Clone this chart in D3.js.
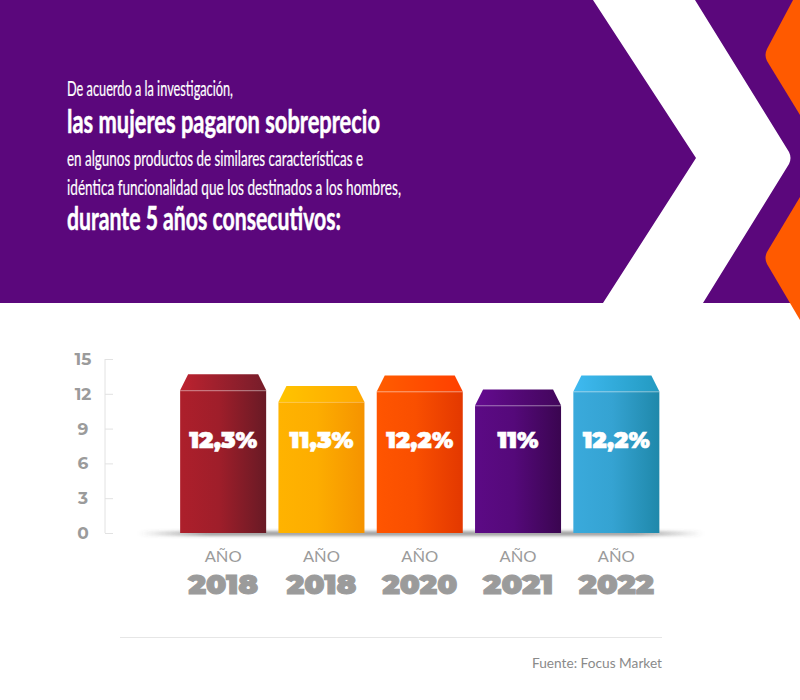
<!DOCTYPE html>
<html><head><meta charset="utf-8">
<script src="https://cdn.jsdelivr.net/npm/d3@7"></script>
<style>html,body{margin:0;padding:0;background:#fff;}svg{display:block;}</style>
</head><body>
<script>
const headerLines = ["De acuerdo a la investigación,", "las mujeres pagaron sobreprecio", "en algunos productos de similares características e", "idéntica funcionalidad que los destinados a los hombres,", "durante 5 años consecutivos:"];
const headerBold = [false, true, false, false, true];
const categories = ["2018", "2018 ", "2020", "2021", "2022"];
const yearLabels = ["2018", "2018", "2020", "2021", "2022"];
const values = [12.3, 11.3, 12.2, 11, 12.2];
const valueLabels = ["12,3%", "11,3%", "12,2%", "11%", "12,2%"];
const yTicks = [0, 3, 6, 9, 12, 15];
const source = "Fuente: Focus Market";

const colorsL = ["#ad1f2b", "#ffb300", "#ff5500", "#5c0a85", "#3aaadc"];
const colorsR = ["#681a25", "#f59300", "#e33800", "#3a0550", "#1f88aa"];

const W = 800, H = 700;
const svg = d3.select("body").append("svg").attr("width", W).attr("height", H);
const defs = svg.append("defs");

// header background
svg.append("rect").attr("x",0).attr("y",0).attr("width",W).attr("height",303).attr("fill","#5b077c");
svg.append("path").attr("fill","#ffffff")
  .attr("d","M593,0 L695,0 L789,152 Q792,158 789,164 L703,303 L603,303 L696,158 Z");
svg.append("path").attr("fill","#ff5a00")
  .attr("d","M793,0 L800,0 L800,115 L767,61 Q764,55 767,49 Z");
svg.append("path").attr("fill","#ff5a00")
  .attr("d","M800,197 L767,252 Q764,258 767,264 L800,320 Z");

const hSizes = [20.5, 32, 20.5, 20.5, 32];
const hBase = [96, 133, 166, 195, 230];
const hWidths = [166, 313, 296, 334, 274];
svg.append("g").selectAll("text").data(headerLines).join("text")
  .attr("x", 67).attr("y", (d,i)=>hBase[i])
  .attr("font-family","Lato, 'Open Sans', sans-serif")
  .attr("font-weight",(d,i)=>headerBold[i]?700:400)
  .attr("font-size",(d,i)=>hSizes[i])
  .attr("fill","#fff")
  .attr("stroke","#fff").attr("stroke-width",(d,i)=>headerBold[i]?0.5:0.2)
  .attr("textLength",(d,i)=>hWidths[i]).attr("lengthAdjust","spacingAndGlyphs")
  .text(d=>d);

// scales
const x = d3.scaleBand().domain(categories).range([174, 665.5]).paddingInner(0.125).paddingOuter(0.0625);
const y = d3.scaleLinear().domain([0, 15]).range([533, 359]);

// y axis
const axis = svg.append("g").attr("transform","translate(105,0)")
  .call(d3.axisRight(y).tickValues(yTicks).tickSize(8).tickFormat(""));
axis.select(".domain").attr("stroke","#e2e2e2").attr("d","M0,"+y(15)+"V"+y(0));
axis.selectAll(".tick line").attr("stroke","#e2e2e2");
svg.append("g").selectAll("text").data(yTicks).join("text")
  .attr("x", 83).attr("y", d=>y(d)+6)
  .attr("text-anchor","middle")
  .attr("font-family","Montserrat, 'Open Sans', sans-serif").attr("font-weight",700)
  .attr("font-size",17).attr("fill","#9b9b9b")
  .text(d=>d);

// floor shadow
const blur = defs.append("filter").attr("id","blur").attr("x","-20%").attr("y","-300%").attr("width","140%").attr("height","700%");
blur.append("feGaussianBlur").attr("stdDeviation","3 1.5");
const sg = defs.append("linearGradient").attr("id","shadowG").attr("x1","0").attr("x2","1");
sg.append("stop").attr("offset","0").attr("stop-color","#555").attr("stop-opacity",0);
sg.append("stop").attr("offset","0.12").attr("stop-color","#555").attr("stop-opacity",0.55);
sg.append("stop").attr("offset","0.88").attr("stop-color","#555").attr("stop-opacity",0.55);
sg.append("stop").attr("offset","1").attr("stop-color","#555").attr("stop-opacity",0);
svg.append("rect").attr("x",140).attr("y",y(0)-2).attr("width",562).attr("height",5)
  .attr("fill","url(#shadowG)").attr("filter","url(#blur)");

// gradients
categories.forEach((c,i)=>{
  const g = defs.append("linearGradient").attr("id","bg"+i).attr("x1","0").attr("x2","1");
  g.append("stop").attr("offset","0").attr("stop-color",colorsL[i]);
  g.append("stop").attr("offset","0.45").attr("stop-color",d3.interpolateRgb(colorsL[i],colorsR[i])(0.2));
  g.append("stop").attr("offset","1").attr("stop-color",colorsR[i]);
  const g2 = defs.append("linearGradient").attr("id","cg"+i).attr("x1","0").attr("x2","1");
  g2.append("stop").attr("offset","0").attr("stop-color",d3.color(colorsL[i]).brighter(0.25));
  g2.append("stop").attr("offset","1").attr("stop-color",d3.color(colorsR[i]).brighter(0.35));
});

const bars = svg.append("g").selectAll("g").data(values).join("g");
const capH = 16, inset = 8;
bars.append("path")
  .attr("d",(d,i)=>{const x0=x(categories[i]), x1=x0+x.bandwidth(), t=y(d);
    return `M${x0},${t} L${x0+inset},${t-capH} L${x1-inset},${t-capH} L${x1},${t} Z`;})
  .attr("fill",(d,i)=>`url(#cg${i})`);
bars.append("rect")
  .attr("x",(d,i)=>x(categories[i])).attr("y",d=>y(d))
  .attr("width",x.bandwidth()).attr("height",d=>y(0)-y(d))
  .attr("fill",(d,i)=>`url(#bg${i})`);
bars.append("line")
  .attr("x1",(d,i)=>x(categories[i])).attr("x2",(d,i)=>x(categories[i])+x.bandwidth())
  .attr("y1",d=>y(d)+0.5).attr("y2",d=>y(d)+0.5)
  .attr("stroke","#ffffff").attr("stroke-opacity",0.3).attr("stroke-width",1);

const vW = [68, 64, 67, 41, 67];
bars.append("text")
  .attr("x",(d,i)=>x(categories[i])+x.bandwidth()/2).attr("y",448)
  .attr("text-anchor","middle")
  .attr("font-family","Montserrat, Lato, 'Open Sans', sans-serif").attr("font-weight",900)
  .attr("font-size",23).attr("fill","#fff")
  .attr("stroke","#fff").attr("stroke-width",0.5)
  .attr("textLength",(d,i)=>vW[i]).attr("lengthAdjust","spacingAndGlyphs")
  .text((d,i)=>valueLabels[i]);

// x labels
const yW = [70, 70, 75, 70, 75];
const xl = svg.append("g").selectAll("g").data(categories).join("g");
xl.append("text")
  .attr("x",d=>x(d)+x.bandwidth()/2).attr("y",562)
  .attr("text-anchor","middle")
  .attr("font-family","Lato, 'Open Sans', sans-serif").attr("font-weight",400)
  .attr("font-size",16).attr("fill","#9b9b9b")
  .attr("textLength",37).attr("lengthAdjust","spacingAndGlyphs")
  .text("AÑO");
xl.append("text")
  .attr("x",d=>x(d)+x.bandwidth()/2).attr("y",594)
  .attr("text-anchor","middle")
  .attr("font-family","Montserrat, Lato, 'Open Sans', sans-serif").attr("font-weight",900)
  .attr("font-size",26.5).attr("fill","#9b9b9b")
  .attr("stroke","#9b9b9b").attr("stroke-width",0.9)
  .attr("textLength",(d,i)=>yW[i]).attr("lengthAdjust","spacingAndGlyphs")
  .text((d,i)=>yearLabels[i]);

// bottom rule and source
svg.append("line").attr("x1",120).attr("x2",662).attr("y1",637.5).attr("y2",637.5)
  .attr("stroke","#e6e6e6").attr("stroke-width",1);
svg.append("text").attr("x",662).attr("y",668).attr("text-anchor","end")
  .attr("font-family","Lato, 'Open Sans', sans-serif").attr("font-size",14).attr("fill","#8a8a8a")
  .attr("textLength",130).attr("lengthAdjust","spacingAndGlyphs")
  .text(source);
</script>
</body></html>
